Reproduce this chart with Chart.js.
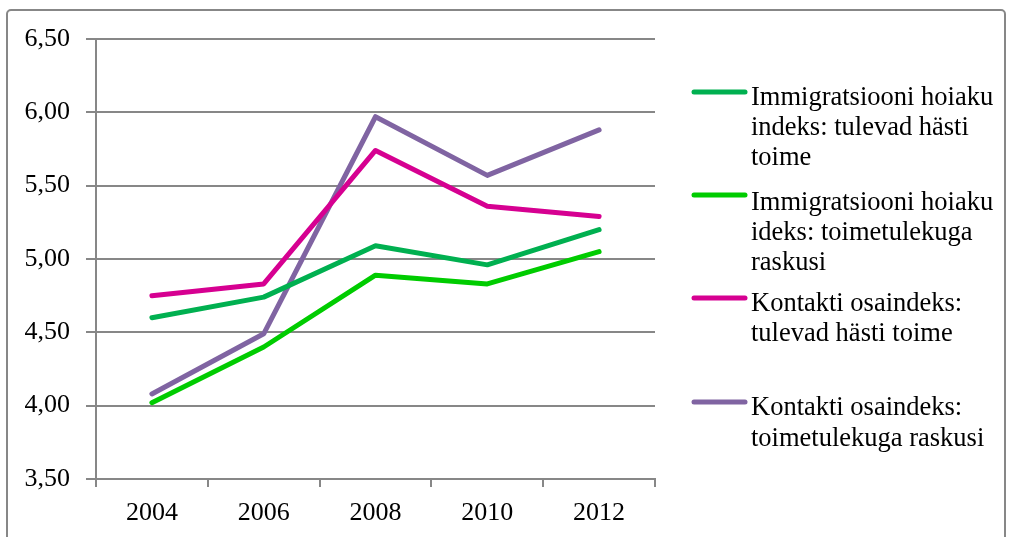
<!DOCTYPE html>
<html>
<head>
<meta charset="utf-8">
<script src="https://cdn.jsdelivr.net/npm/chart.js@4"></script>
<style>
  html, body { margin: 0; padding: 0; background: #fff; }
  #wrap { width: 1009px; height: 537px; position: relative; }
</style>
</head>
<body>
<div id="wrap"><canvas id="chart"></canvas></div>
<script>
const years = ["2004", "2006", "2008", "2010", "2012"];

const immWell = [4.60, 4.74, 5.09, 4.96, 5.20];
const immHard = [4.02, 4.40, 4.89, 4.83, 5.05];
const contWell = [4.75, 4.83, 5.74, 5.36, 5.29];
const contHard = [4.08, 4.49, 5.97, 5.57, 5.88];

const seriesNames = [
  ["Immigratsiooni hoiaku", "indeks: tulevad hästi", "toime"],
  ["Immigratsiooni hoiaku", "ideks: toimetulekuga", "raskusi"],
  ["Kontakti osaindeks:", "tulevad hästi toime"],
  ["Kontakti osaindeks:", "toimetulekuga raskusi"],
];
const seriesColours = ["rgb(0,176,80)", "rgb(0,204,0)", "rgb(214,0,145)", "rgb(128,100,162)"];

const FONT = '"Liberation Serif", "Times New Roman", serif';
const GREY = "#878787";

// legend + outer frame drawn by hand (Excel-style wrapped legend)
const legendLayout = [
  { marker: 92, baselines: [105, 135, 165] },
  { marker: 195, baselines: [210, 240, 270] },
  { marker: 298, baselines: [311, 341] },
  { marker: 402, baselines: [415, 446] },
];

const excelLegend = {
  id: "excelLegend",
  afterDraw(chart) {
    const ctx = chart.ctx;
    ctx.save();
    // frame
    ctx.strokeStyle = GREY;
    ctx.lineWidth = 2;
    ctx.beginPath();
    ctx.roundRect(7, 10, 998, 540, 4);
    ctx.stroke();

    ctx.font = "26.5px " + FONT;
    ctx.fillStyle = "#000";
    ctx.textBaseline = "alphabetic";
    legendLayout.forEach((item, i) => {
      ctx.strokeStyle = seriesColours[i];
      ctx.lineWidth = 5;
      ctx.lineCap = "round";
      ctx.beginPath();
      ctx.moveTo(694, item.marker);
      ctx.lineTo(745, item.marker);
      ctx.stroke();
      seriesNames[i].forEach((line, j) => {
        ctx.fillText(line, 751, item.baselines[j]);
      });
    });
    ctx.restore();
  },
};

function makeSet(name, data, colour) {
  return {
    label: name.join(" "),
    data: data,
    borderColor: colour,
    backgroundColor: colour,
    borderWidth: 5,
    borderCapStyle: "round",
    borderJoinStyle: "round",
    pointRadius: 0,
    tension: 0,
  };
}

new Chart(document.getElementById("chart"), {
  type: "line",
  data: {
    labels: years,
    datasets: [
      makeSet(seriesNames[0], immWell, seriesColours[0]),
      makeSet(seriesNames[1], immHard, seriesColours[1]),
      makeSet(seriesNames[2], contWell, seriesColours[2]),
      makeSet(seriesNames[3], contHard, seriesColours[3]),
    ],
  },
  options: {
    responsive: true,
    maintainAspectRatio: false,
    animation: false,
    layout: { padding: { left: 0, top: 39, right: 354, bottom: 0 } },
    plugins: {
      legend: { display: false },
      tooltip: { enabled: false },
    },
    scales: {
      x: {
        offset: true,
        afterFit(scale) { scale.height = 58; },
        grid: {
          offset: true,
          drawOnChartArea: false,
          drawTicks: true,
          tickLength: 8,
          color: GREY,
          lineWidth: 2,
        },
        border: { color: GREY, width: 2 },
        ticks: {
          color: "#000",
          padding: 11,
          font: { family: FONT, size: 26 },
          maxRotation: 0,
        },
      },
      y: {
        min: 3.5,
        max: 6.5,
        afterFit(scale) { scale.width = 96; },
        grid: {
          color: GREY,
          lineWidth: 2,
          tickLength: 10,
        },
        border: { color: GREY, width: 2 },
        ticks: {
          stepSize: 0.5,
          color: "#000",
          padding: 16,
          font: { family: FONT, size: 26 },
          callback: (v) => v.toFixed(2).replace(".", ","),
        },
      },
    },
  },
  plugins: [excelLegend],
});
</script>
</body>
</html>
